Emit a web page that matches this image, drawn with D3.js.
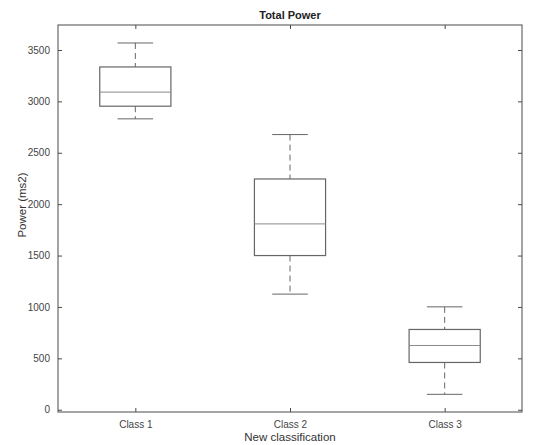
<!DOCTYPE html>
<html><head><meta charset="utf-8">
<script src="https://cdn.jsdelivr.net/npm/d3@7"></script>
<style>body{margin:0;background:#fff}svg{display:block}text{font-family:"Liberation Sans",Arial,sans-serif}</style>
</head><body><svg id="c" width="535" height="445"></svg>
<script>
const categories = ["Class 1", "Class 2", "Class 3"];
const lowerWhisker = [2830, 1125, 150];
const q1 = [2953, 1500, 460];
const median = [3090, 1808, 625];
const q3 = [3335, 2245, 781];
const upperWhisker = [3568, 2677, 1001];
const yTicks = [0, 500, 1000, 1500, 2000, 2500, 3000, 3500];

const svg = d3.select("#c");
const L = 58, R = 522, T = 25, B = 412;
const x = d3.scaleLinear().domain([0.5, 3.5]).range([L, R]);
const y = d3.scaleLinear().domain([-22, 3743]).range([B, T]);
const axisCol = "#4a4a4a", tickTxt = "#444";

// frame
svg.append("rect").attr("x", L).attr("y", T).attr("width", R - L).attr("height", B - T)
  .attr("fill", "none").attr("stroke", axisCol).attr("stroke-width", 1);

const gL = svg.append("g").attr("transform", `translate(${L},0)`)
  .call(d3.axisLeft(y).tickValues(yTicks).tickFormat(d3.format("d")).tickSizeInner(-4).tickSizeOuter(0).tickPadding(8));
const gR = svg.append("g").attr("transform", `translate(${R},0)`)
  .call(d3.axisRight(y).tickValues(yTicks).tickSizeInner(-4).tickSizeOuter(0).tickFormat(""));
const xb = d3.scaleOrdinal().domain(categories).range([1, 2, 3]);
const gB = svg.append("g").attr("transform", `translate(0,${B})`)
  .call(d3.axisBottom(x).tickValues([1, 2, 3]).tickFormat((d, i) => categories[i]).tickSizeInner(-4).tickSizeOuter(0).tickPadding(9));
const gT = svg.append("g").attr("transform", `translate(0,${T})`)
  .call(d3.axisTop(x).tickValues([1, 2, 3]).tickFormat("").tickSizeInner(-4).tickSizeOuter(0));
[gL, gR, gB, gT].forEach(g => {
  g.select(".domain").remove();
  g.selectAll("line").attr("stroke", axisCol);
  g.selectAll("text").attr("fill", tickTxt).style("font-size", "10px").attr("font-family", "Liberation Sans, Arial, sans-serif");
});

const boxW = 0.46, capW = 0.23;
const boxCol = "#666";
categories.forEach((c, i) => {
  const cx = x(xb(c));
  const g = svg.append("g");
  g.append("line").attr("x1", cx).attr("x2", cx).attr("y1", y(upperWhisker[i])).attr("y2", y(q3[i]))
    .attr("stroke", boxCol).attr("stroke-dasharray", "6,4");
  g.append("line").attr("x1", cx).attr("x2", cx).attr("y1", y(q1[i])).attr("y2", y(lowerWhisker[i]))
    .attr("stroke", boxCol).attr("stroke-dasharray", "6,4");
  [upperWhisker[i], lowerWhisker[i]].forEach(v => {
    g.append("line").attr("x1", cx - (x(1 + capW / 2) - x(1))).attr("x2", cx + (x(1 + capW / 2) - x(1)))
      .attr("y1", y(v)).attr("y2", y(v)).attr("stroke", boxCol);
  });
  const hw = x(1 + boxW / 2) - x(1);
  g.append("rect").attr("x", cx - hw).attr("y", y(q3[i])).attr("width", 2 * hw).attr("height", y(q1[i]) - y(q3[i]))
    .attr("fill", "none").attr("stroke", boxCol).attr("stroke-width", 1.2);
  g.append("line").attr("x1", cx - hw).attr("x2", cx + hw).attr("y1", y(median[i])).attr("y2", y(median[i]))
    .attr("stroke", "#8a8a8a");
});

svg.append("text").attr("x", (L + R) / 2).attr("y", 19).attr("text-anchor", "middle")
  .style("font-size", "11px").style("font-weight", "bold").attr("fill", "#222").text("Total Power");
svg.append("text").attr("x", (L + R) / 2).attr("y", 441).attr("text-anchor", "middle")
  .style("font-size", "11.5px").attr("fill", "#333").text("New classification");
svg.append("text").attr("transform", `translate(26,205) rotate(-90)`).attr("text-anchor", "middle")
  .style("font-size", "11.5px").attr("fill", "#333").text("Power (ms2)");
</script></body></html>
